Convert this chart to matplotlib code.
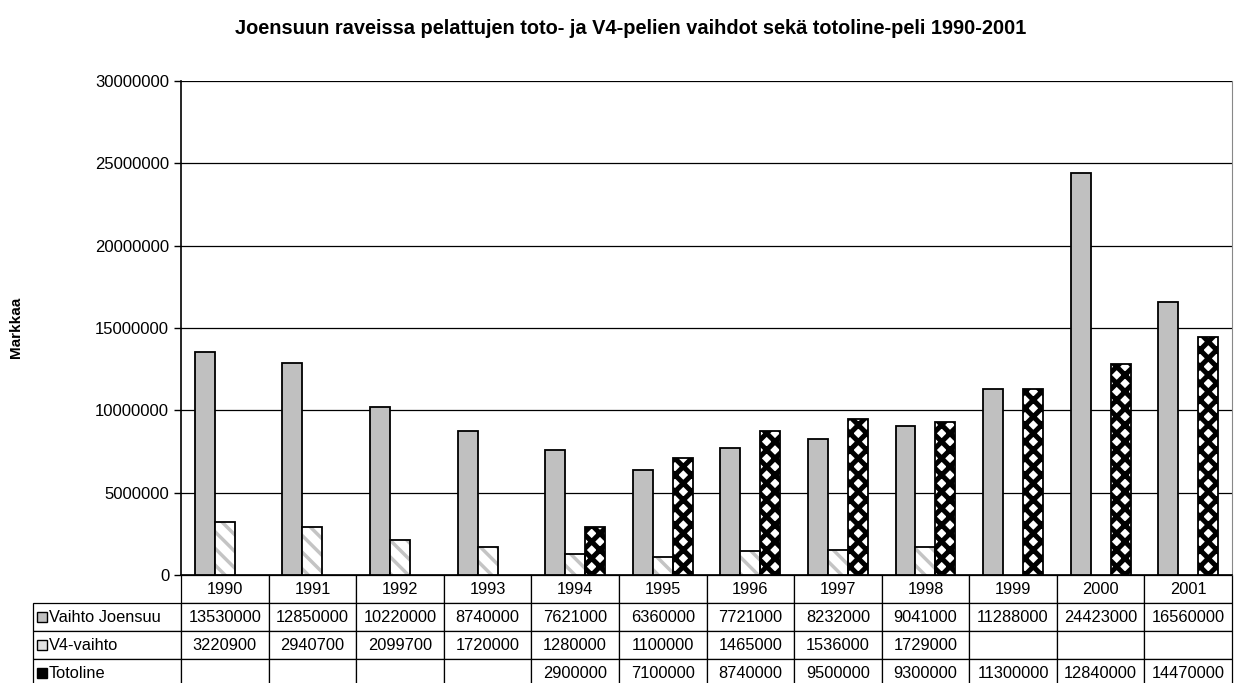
import matplotlib.pyplot as plt
import numpy as np
from matplotlib.patches import Rectangle

plt.rcParams['font.family'] = ['Liberation Sans', 'DejaVu Sans']

years = ['1990', '1991', '1992', '1993', '1994', '1995', '1996', '1997',
         '1998', '1999', '2000', '2001']
vaihto = [13530000, 12850000, 10220000, 8740000, 7621000, 6360000, 7721000,
          8232000, 9041000, 11288000, 24423000, 16560000]
v4 = [3220900, 2940700, 2099700, 1720000, 1280000, 1100000, 1465000, 1536000,
      1729000, None, None, None]
totoline = [None, None, None, None, 2900000, 7100000, 8740000, 9500000,
            9300000, 11300000, 12840000, 14470000]
series_names = ['Vaihto Joensuu', 'V4-vaihto', 'Totoline']

fig = plt.figure(figsize=(12.41, 6.83), dpi=100)
ax = fig.add_axes([181 / 1241, 108 / 683, 1051 / 1241, 494 / 683])

x = np.arange(len(years))
w = 0.228


def clean(vals):
    return np.array([np.nan if v is None else v for v in vals], dtype=float)


def set_hlw(bars, lw):
    for b in bars:
        if hasattr(b, 'set_hatch_linewidth'):
            b.set_hatch_linewidth(lw)


vv = clean(vaihto)
v4v = clean(v4)
tt = clean(totoline)

ax.bar(x - w, vv, w, color='#C0C0C0', edgecolor='black', lw=1.3, zorder=3)

m = ~np.isnan(v4v)
b1 = ax.bar(x[m], v4v[m], w, color='white', edgecolor='#C4C4C4',
            hatch='\\\\', lw=0, zorder=3)
set_hlw(b1, 2.5)
ax.bar(x[m], v4v[m], w, fill=False, edgecolor='black', lw=1.3, zorder=4)

m = ~np.isnan(tt)
b2 = ax.bar(x[m] + w, tt[m], w, color='white', edgecolor='black', hatch='xx',
            lw=1.3, zorder=3)
set_hlw(b2, 3.6)

ax.set_xlim(-0.5, len(years) - 0.5)
ax.set_ylim(0, 30000000)
ax.set_yticks(np.arange(0, 30000001, 5000000))
ax.yaxis.set_major_formatter(plt.FuncFormatter(lambda v, p: '%d' % v))
ax.tick_params(axis='y', labelsize=12, length=5, width=1, direction='out')
ax.set_xticks([])
ax.grid(axis='y', color='black', lw=0.9, zorder=0)
ax.spines['top'].set_visible(False)
ax.spines['right'].set_color('#888888')
ax.spines['left'].set_linewidth(1.2)
ax.spines['bottom'].set_linewidth(1.2)

fig.text(16 / 1241, 1 - 327 / 683, 'Markkaa', rotation=90, ha='center',
         va='center', fontsize=11, fontweight='bold')
fig.text(631 / 1241, 1 - 28 / 683, 'Joensuun raveissa pelattujen toto- ja '
         'V4-pelien vaihdot sekä totoline-peli 1990-2001', ha='center',
         va='center', fontsize=14.4, fontweight='bold')


def fmt(vals):
    return ['' if v is None else str(v) for v in vals]


cell_text = [[name] + fmt(vals) for name, vals in
             zip(series_names, [vaihto, v4, totoline])]
row_w = 148 / 1051
tab = ax.table(cellText=cell_text, colLabels=[''] + years,
               colWidths=[148] + [1051 / 12] * 12, cellLoc='center',
               bbox=[-row_w, -112 / 494, 1 + row_w, 112 / 494])
tab.auto_set_font_size(False)
tab.set_fontsize(11.8)
for (r, c), cell in tab.get_celld().items():
    cell.set_linewidth(0.9)
    if c == 0:
        cell._loc = 'left'
        cell.PAD = 16 / 148
        cell.get_text().set_ha('left')
        if r == 0:
            cell.visible_edges = ''

# legend keys in the row label cells
key_styles = [dict(facecolor='#C0C0C0', edgecolor='black'),
              dict(facecolor='#E0E0E0', edgecolor='black'),
              dict(facecolor='black', edgecolor='black')]
for i, st in enumerate(key_styles):
    yc = -(28 * (i + 1) + 14) / 494
    ax.add_patch(Rectangle((-row_w + 4 / 1051, yc - 5 / 494), 10 / 1051,
                           10 / 494, transform=ax.transAxes, clip_on=False,
                           lw=1, zorder=10, **st))

fig.savefig('out.png', dpi=100)
